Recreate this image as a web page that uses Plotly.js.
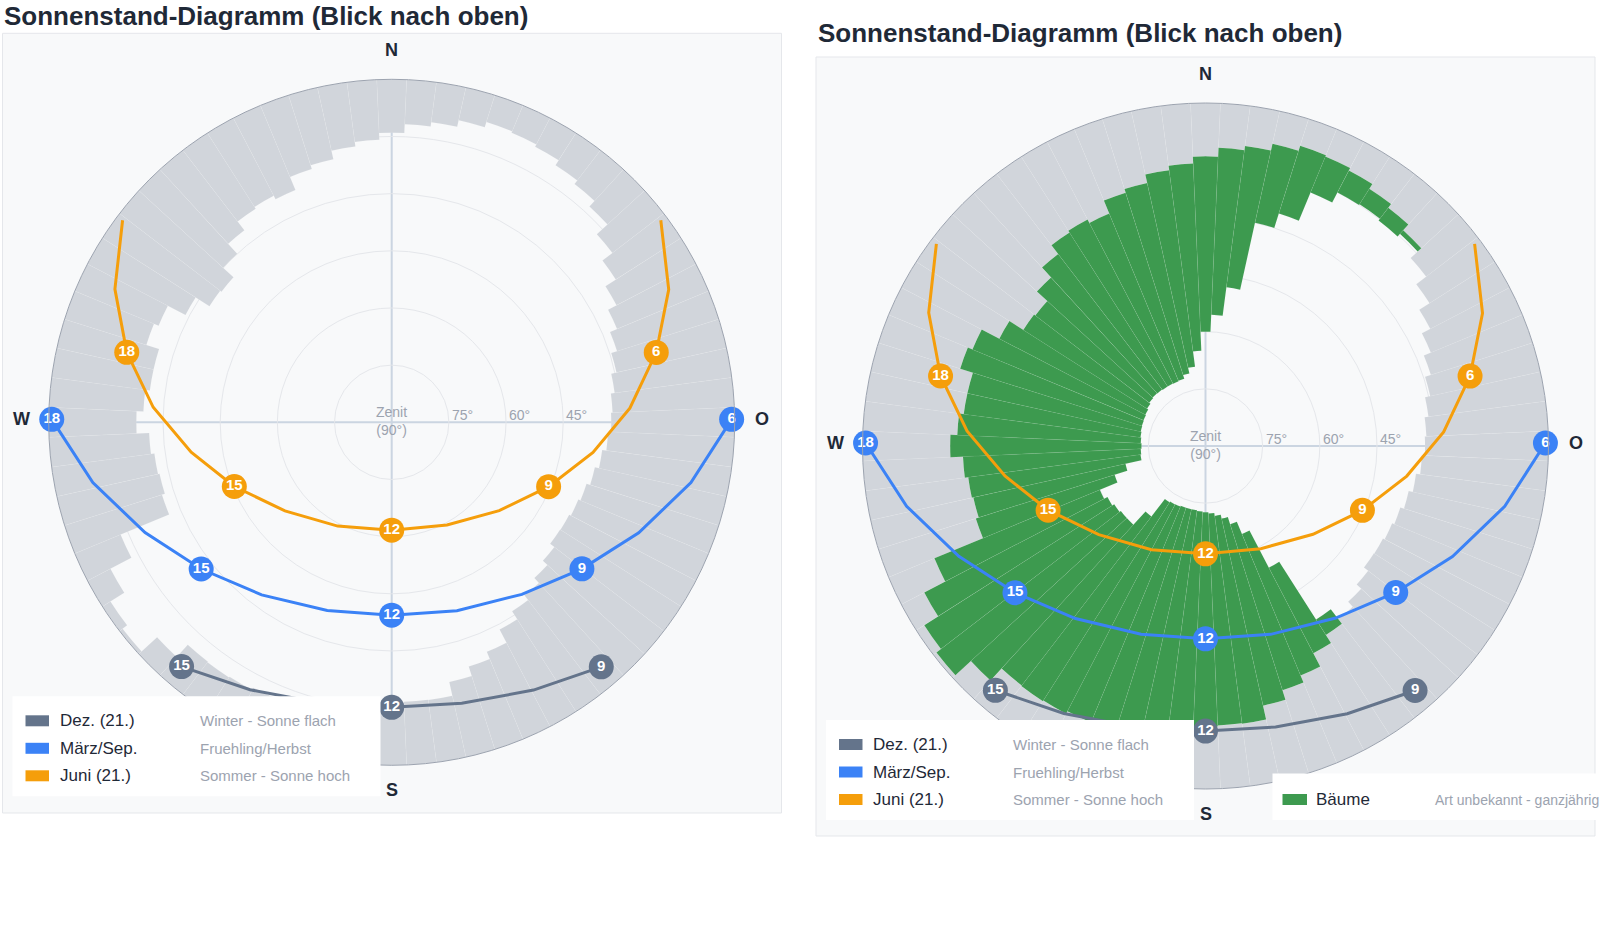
<!DOCTYPE html>
<html>
<head>
<meta charset="utf-8">
<script src="https://cdn.plot.ly/plotly-3.0.1.min.js"></script>
<style>
html,body{margin:0;padding:0;background:#ffffff;}
#chart{width:1600px;height:941px;}
</style>
</head>
<body>
<div id="chart"></div>
<script>
// ---------- DATA ----------
// Azimuth of each horizon sector (deg, 0 = Nord, clockwise)
const azimuths = [0,5,10,15,20,25,30,35,40,45,50,55,60,65,70,75,80,85,90,95,
  100,105,110,115,120,125,130,135,140,145,150,155,160,165,170,175,180,185,190,195,
  200,205,210,215,220,225,230,235,240,245,250,255,260,265,270,275,280,285,290,295,
  300,305,310,315,320,325,330,335,340,345,350,355];

// Horizon elevation (deg) – grey obstruction
const horizonElev = [14.0,11.7,10.6,8.8,7.4,7.8,8.5,10.0,11.2,13.2,
  17.0,20.3,23.5,26.0,28.0,29.6,31.0,32.0,32.4,33.2,
  34.3,35.4,36.4,37.0,37.5,37.6,36.2,34.6,32.8,31.2,
  28.7,24.8,22.8,20.2,16.5,16.6,16.3,15.5,14.5,13.5,
  12.5,11.5,10.8,10.6,10.8,6.5,1.0,2.5,6.8,13.0,
  26.8,27.6,27.2,26.3,23.0,24.8,26.0,26.0,22.5,23.8,
  29.0,33.3,33.7,30.0,26.5,23.6,23.0,24.0,20.3,19.3,
  17.0,15.8];

// Tree top elevation (deg) – "Bäume", null = no trees
const treeTopElev = [60,55.5,48,30,26,18,15,14.8,15.4,14.5,
  null,null,null,null,null,null,null,null,null,null,
  null,null,null,null,null,null,null,null,null,36,
  54,65,68.5,70.5,71.5,72.3,72.6,72.8,73,73,
  73,72.8,72.7,72.5,66.7,62,62,61.6,61,60,
  65,68.5,72.8,73,73.2,73,72.8,72.6,72.5,72.4,
  72.2,71.8,71.4,71.2,71.3,71.5,71.5,71.6,71.5,70.5,
  69,65];

// Sun paths
const dezHours = [9,10,11,12,13,14,15];
const dezAz    = [139.4,152.1,166.0,180,194.0,207.9,220.7];
const dezElev  = [5.5,10.5,14.0,15.2,14.0,10.6,5.45];

const maerzHours = [6,7,8,9,10,11,12,13,14,15,16,17,18];
const maerzAz    = [89.5,101.4,114.1,127.6,142.9,160.9,180,198.9,217.0,232.4,245.9,258.6,270.5];
const maerzElev  = [0.8,9.9,19.0,27.0,33.4,37.7,39.4,37.8,33.3,26.9,19.1,10.0,0.8];

const juniHours = [4,5,6,7,8,9,10,11,12,13,14,15,16,17,18,19,20];
const juniAz    = [53.1,64.4,75.2,86.6,98.5,112.3,129.4,151.7,180,207.5,230.3,247.8,261.5,273.6,284.8,295.7,306.9];
const juniElev  = [1.7,9.4,18.2,27.4,36.6,45.5,53.5,59.4,61.7,59.3,53.6,45.4,36.8,27.3,18.1,9.4,1.7];

const labeledHours = [6,9,12,15,18];

const seriesNames = ['Dez. (21.)','März/Sep.','Juni (21.)'];
const seriesDesc  = ['Winter - Sonne flach','Fruehling/Herbst','Sommer - Sonne hoch'];
const treeName = 'Bäume';
const treeDesc = 'Art unbekannt - ganzjährig';

const ringElevs = [75,60,45];
const compass = ['N','O','S','W'];
const titleText = 'Sonnenstand-Diagramm (Blick nach oben)';

// ---------- STYLE / LAYOUT ----------
const W = 1600, H = 941;
const X = px => px / W;
const Y = py => 1 - py / H;
const R = 343;
const FONT = 'Liberation Sans, Arial, Helvetica, sans-serif';
const colors = ['#64748b','#3b82f6','#f59e0b'];
const greyFill = '#d1d5db';
const green = '#3d9a4f';

const charts = [
  {sub:'polar',  cx:391.7,  cy:422.3, box:[2.5,33.3,781.5,813], title:[2,16.5], trees:false},
  {sub:'polar2', cx:1205.5, cy:446,   box:[816,57,1595,836],    title:[816,33.5], trees:true}
];

const series = [
  {hours:dezHours,   az:dezAz,   el:dezElev},
  {hours:maerzHours, az:maerzAz, el:maerzElev},
  {hours:juniHours,  az:juniAz,  el:juniElev}
];

const data = [];
const shapes = [];
const annotations = [];

charts.forEach(c => {
  // horizon (grey)
  data.push({
    type:'barpolar', subplot:c.sub, theta:azimuths,
    r:horizonElev, base:horizonElev.map(e => 90 - e), width:5,
    marker:{color:greyFill, line:{color:'rgba(255,255,255,0.22)', width:0.4}},
    hoverinfo:'skip', showlegend:false
  });
  if (c.trees) {
    data.push({
      type:'barpolar', subplot:c.sub, theta:azimuths,
      r:treeTopElev.map((t,i) => t === null ? null : t - horizonElev[i]),
      base:treeTopElev.map(t => t === null ? null : 90 - t), width:5,
      marker:{color:green, line:{color:'rgba(255,255,255,0.15)', width:0.4}},
      hoverinfo:'skip', showlegend:false
    });
  }
  series.forEach((s,k) => {
    data.push({
      type:'scatterpolar', subplot:c.sub, mode:'lines',
      r:s.el.map(e => 90 - e), theta:s.az,
      line:{color:colors[k], width:3},
      hoverinfo:'skip', showlegend:false
    });
  });
  series.forEach((s,k) => {
    const idx = s.hours.map((h,i) => labeledHours.includes(h) ? i : -1).filter(i => i >= 0);
    data.push({
      type:'scatterpolar', subplot:c.sub, mode:'markers+text',
      r:idx.map(i => 90 - s.el[i]), theta:idx.map(i => s.az[i]),
      text:idx.map(i => '<b>' + s.hours[i] + '</b>'),
      textposition:'middle center',
      textfont:{family:FONT, size:15, color:'#ffffff'},
      marker:{color:colors[k], size:25, line:{width:0}},
      cliponaxis:false, hoverinfo:'skip', showlegend:false
    });
  });

  // box background
  shapes.push({type:'rect', xref:'paper', yref:'paper', layer:'below',
    x0:X(c.box[0]), x1:X(c.box[2]), y0:Y(c.box[3]), y1:Y(c.box[1]),
    fillcolor:'#f8f9fa', line:{color:'#e5e7eb', width:1}});

  // title
  annotations.push({xref:'paper', yref:'paper', x:X(c.title[0]), y:Y(c.title[1]),
    xanchor:'left', yanchor:'middle', showarrow:false,
    text:'<b>' + titleText + '</b>', font:{family:FONT, size:26, color:'#1f2937'}});

  // compass labels
  const cpos = {N:[0,-372], O:[370,-3], S:[0,368], W:[-370.5,-3]};
  compass.forEach(k => {
    annotations.push({xref:'paper', yref:'paper', x:X(c.cx + cpos[k][0]), y:Y(c.cy + cpos[k][1]),
      xanchor:'center', yanchor:'middle', showarrow:false,
      text:'<b>' + k + '</b>', font:{family:FONT, size:18, color:'#1f2937'}});
  });

  // ring labels
  ringElevs.forEach(e => {
    const rp = (90 - e) / 90 * R;
    annotations.push({xref:'paper', yref:'paper', x:X(c.cx + rp + 1), y:Y(c.cy - 7),
      xanchor:'left', yanchor:'middle', showarrow:false,
      text:e + '°', font:{family:FONT, size:14, color:'#9ca3af'}});
  });
  annotations.push({xref:'paper', yref:'paper', x:X(c.cx), y:Y(c.cy - 1),
    xanchor:'center', yanchor:'middle', showarrow:false,
    text:'Zenit<br>(90°)', font:{family:FONT, size:14, color:'#9ca3af'}});

  // legend (sun paths)
  const bx = c.box[0], by = c.box[1];
  shapes.push({type:'rect', xref:'paper', yref:'paper', layer:'above',
    x0:X(bx + 10), x1:X(bx + 378), y0:Y(by + 763), y1:Y(by + 663),
    fillcolor:'#ffffff', line:{width:0}});
  const rows = [687.5, 715, 742.5];
  seriesNames.forEach((n,k) => {
    const ry = by + rows[k];
    shapes.push({type:'rect', xref:'paper', yref:'paper', layer:'above',
      x0:X(bx + 23), x1:X(bx + 46.5), y0:Y(ry + 5.5), y1:Y(ry - 5.5),
      fillcolor:colors[k], line:{width:0}});
    annotations.push({xref:'paper', yref:'paper', x:X(bx + 55), y:Y(ry),
      xanchor:'left', yanchor:'middle', showarrow:false,
      text:n, font:{family:FONT, size:17, color:'#1f2937'}});
    annotations.push({xref:'paper', yref:'paper', x:X(bx + 195), y:Y(ry),
      xanchor:'left', yanchor:'middle', showarrow:false,
      text:seriesDesc[k], font:{family:FONT, size:15, color:'#9ca3af'}});
  });

  if (c.trees) {
    const ry = by + 742.5;
    shapes.push({type:'rect', xref:'paper', yref:'paper', layer:'above',
      x0:X(bx + 456.5), x1:X(1610), y0:Y(by + 763), y1:Y(by + 716.5),
      fillcolor:'#ffffff', line:{width:0}});
    shapes.push({type:'rect', xref:'paper', yref:'paper', layer:'above',
      x0:X(bx + 466.5), x1:X(bx + 491), y0:Y(ry + 5.5), y1:Y(ry - 5.5),
      fillcolor:green, line:{width:0}});
    annotations.push({xref:'paper', yref:'paper', x:X(bx + 498), y:Y(ry),
      xanchor:'left', yanchor:'middle', showarrow:false,
      text:treeName, font:{family:FONT, size:17, color:'#1f2937'}});
    annotations.push({xref:'paper', yref:'paper', x:X(bx + 617), y:Y(ry),
      xanchor:'left', yanchor:'middle', showarrow:false,
      text:treeDesc, font:{family:FONT, size:14, color:'#9ca3af'}});
  }
});

function polarCfg(c) {
  return {
    domain:{x:[X(c.cx - R), X(c.cx + R)], y:[Y(c.cy + R), Y(c.cy - R)]},
    bgcolor:'rgba(0,0,0,0)',
    bargap:0,
    radialaxis:{range:[0,90], autorange:false, tickmode:'array', tickvals:[15,30,45,60,75],
      showticklabels:false, ticks:'', showline:false, gridcolor:'#e5e7eb', gridwidth:1},
    angularaxis:{rotation:90, direction:'clockwise', tickmode:'array', tickvals:[0,90,180,270],
      showticklabels:false, ticks:'', showline:true, linecolor:'#9ca3af', linewidth:1,
      gridcolor:'#cbd5e1', gridwidth:1.5}
  };
}

const layout = {
  width:W, height:H,
  margin:{l:0, r:0, t:0, b:0},
  paper_bgcolor:'#ffffff',
  showlegend:false,
  font:{family:FONT},
  polar:polarCfg(charts[0]),
  polar2:polarCfg(charts[1]),
  shapes:shapes,
  annotations:annotations
};

Plotly.newPlot('chart', data, layout, {displayModeBar:false, responsive:false});
</script>
</body>
</html>
